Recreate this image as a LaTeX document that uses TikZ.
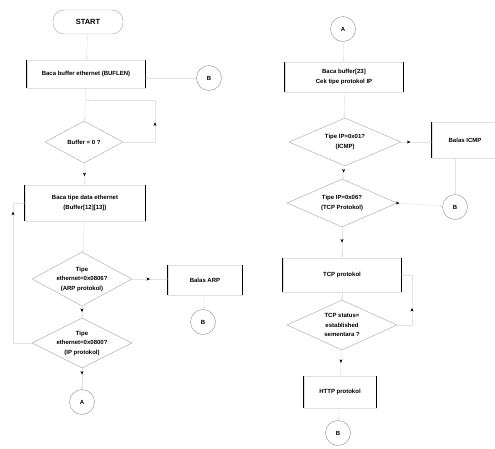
\documentclass[tikz,border=0pt]{standalone}
\usepackage{fontspec}
\setmainfont{Liberation Sans}
\usetikzlibrary{shapes.geometric,arrows.meta,decorations.markings}
\begin{document}
\begin{tikzpicture}[x=1pt,y=-1pt,
 every node/.style={font=\fontsize{6}{9.5}\selectfont\bfseries, align=center, inner sep=0pt},
 every label/.style={align=center},
 pbox/.style={rectangle, draw=black!12},
 term/.style={rectangle, rounded corners=11pt, draw=black!35, minimum width=70pt, minimum height=24pt, font=\fontsize{7.5}{9}\selectfont\bfseries},
 conn/.style={circle, draw=black!45, minimum size=25pt},
 dia/.style={diamond, draw=black!35},
 flow/.style={draw=black!11, -{Stealth[length=3pt,width=2.5pt]}},
 mk/.style={postaction={decorate, decoration={markings, mark=at position #1 with {\arrow[black]{Stealth[length=3.5pt,width=3pt]}}}}},
]
\useasboundingbox (0,0) rectangle (495,448);

% left column
\node[term] (start) at (88,22) {START};
\node[pbox, minimum width=118pt, minimum height=28pt] (b1) at (86,74) {Baca buffer ethernet (BUFLEN)};
\node[conn] (cB1) at (209,78) {B};
\node[dia, minimum width=78pt, minimum height=42pt, label={center:{Buffer = 0 ?}}] (d1) at (84,142) {};
\coordinate (j1) at (86,100);
\node[pbox, minimum width=120pt, minimum height=36pt] (b2) at (85,203) {Baca tipe data ethernet\\(Buffer[12][13])};
\node[dia, minimum width=100pt, minimum height=54pt, label={center:{Tipe\\ethernet=0x0806?\\(ARP protokol)}}] (d3) at (82,279) {};
\node[pbox, minimum width=74pt, minimum height=30pt] (bARP) at (205,280) {Balas ARP};
\node[conn] (cB2) at (203,322) {B};
\node[dia, minimum width=100pt, minimum height=50pt, label={center:{Tipe\\ethernet=0x0800?\\(IP protokol)}}] (d4) at (82,343) {};
\node[conn] (cA1) at (82,402) {A};

% right column
\node[conn] (cA2) at (343,29) {A};
\node[pbox, minimum width=118pt, minimum height=30pt] (R1) at (344,77) {Baca buffer[23]\\Cek tipe protokol IP};
\node[dia, minimum width=112pt, minimum height=48pt, label={center:{Tipe IP=0x01?\\(ICMP)}}] (dI) at (345,142) {};
\node[pbox, minimum width=66pt, minimum height=36pt] (bICMP) at (465,140) {Balas ICMP};
\node[dia, minimum width=110pt, minimum height=48pt, label={center:{Tipe IP=0x06?\\(TCP Protokol)}}] (dT) at (342,203) {};
\node[conn] (cB3) at (455,207) {B};
\node[pbox, minimum width=118pt, minimum height=34pt] (bTCP) at (342,275) {TCP protokol};
\node[dia, minimum width=110pt, minimum height=50pt, label={center:{TCP status=\\established\\sementara ?}}] (dS) at (342,325) {};
\node[pbox, minimum width=72pt, minimum height=32pt] (bHTTP) at (340,392) {HTTP protokol};
\node[conn] (cB4) at (338,433) {B};

% dark vertical sides of process boxes
\foreach \n in {b1,b2,bARP,R1,bICMP,bTCP,bHTTP}
  \draw[line width=1pt] (\n.north west) -- (\n.south west) (\n.north east) -- (\n.south east);

% connectors
\draw[flow] (start) -- (b1);
\draw[flow] (cB1.west) -- (cB1.west -| b1.east);
\draw[flow] (b1) -- (d1);
\draw[flow, mk=0.6] (d1) -- (b2);
\draw[flow, mk=0.36] (d1.east) -- (155,142) -- (155,100) -- (j1);
\draw[flow, mk=0.88] (d4.west) -- (13,343) -- (13,203) -- (b2.west);
\draw[flow] (b2) -- (d3);
\draw[flow, mk=0.5] (d3.east) -- (d3.east -| bARP.west);
\draw[flow] (bARP) -- (cB2);
\draw[flow, mk=0.5] (d3) -- (d4);
\draw[flow, mk=0.3] (d4) -- (cA1);

\draw[flow] (cA2) -- (R1);
\draw[flow] (R1) -- (dI);
\draw[flow, mk=0.3] (dI.east) -- (dI.east -| bICMP.west);
\draw[flow] (bICMP.south -| cB3) -- (cB3);
\draw[flow, mk=0.5] (dI) -- (dT);
\draw[flow, mk=0.05] (dT.east) -- (cB3);
\draw[flow, mk=0.5] (dT) -- (bTCP);
\draw[flow] (bTCP) -- (dS);
\draw[flow, mk=0.42] (dS.east) -- (412,325) -- (412,275) -- (bTCP.east);
\draw[flow, mk=0.5] (dS) -- (bHTTP);
\draw[flow] (bHTTP) -- (cB4);
\end{tikzpicture}
\end{document}
